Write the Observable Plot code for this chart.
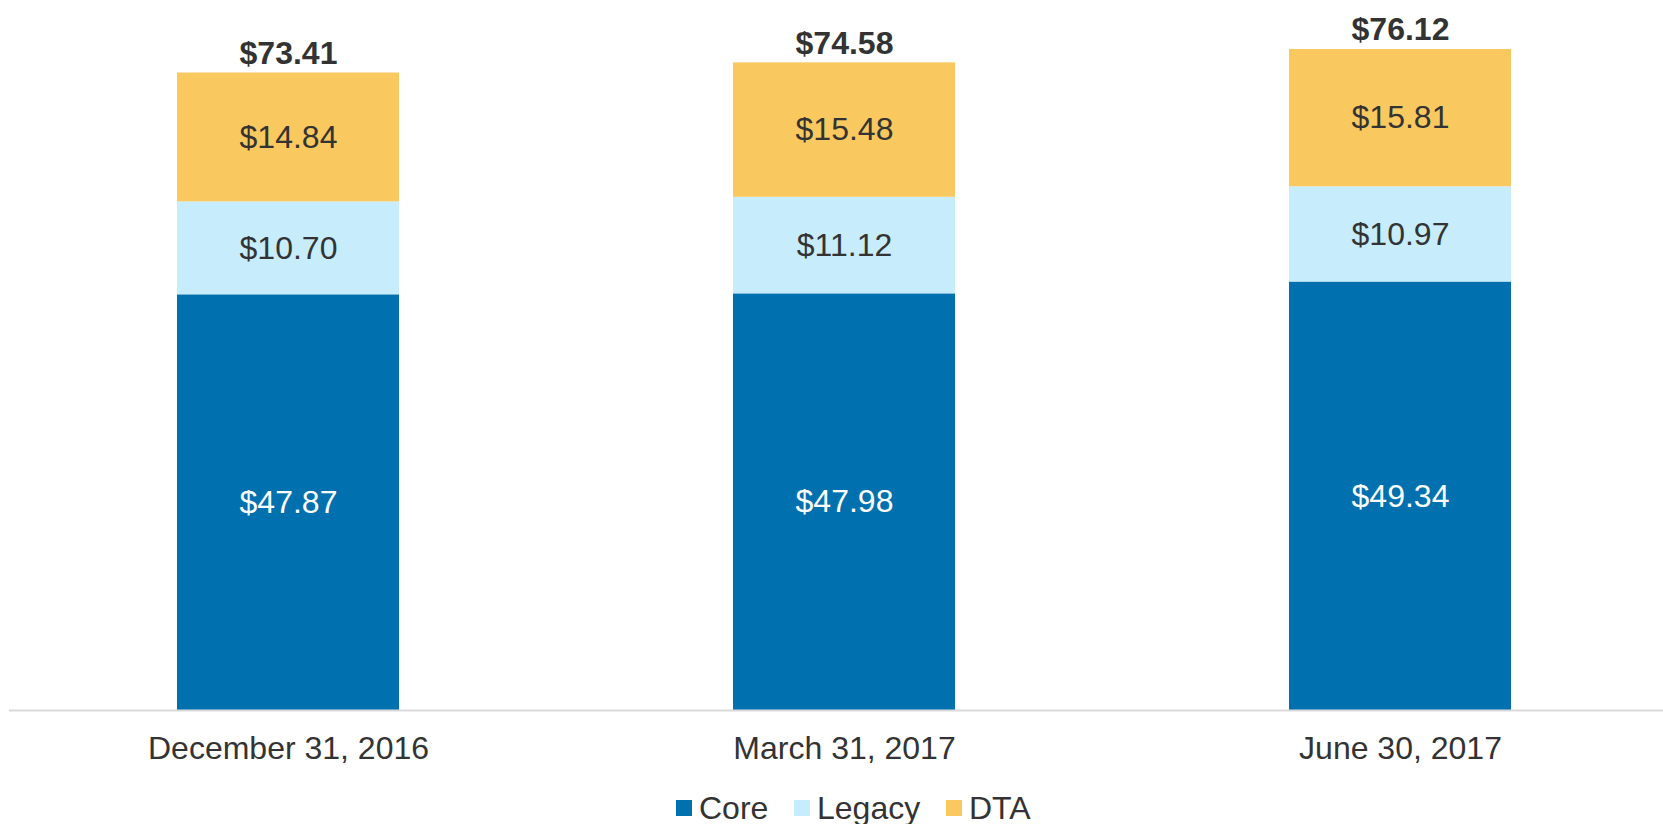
<!DOCTYPE html>
<html>
<head>
<meta charset="utf-8">
<script src="https://cdn.jsdelivr.net/npm/d3@7"></script>
<script src="https://cdn.jsdelivr.net/npm/@observablehq/plot@0.6"></script>
<style>
  html, body { margin: 0; padding: 0; background: #fff; }
  body { width: 1663px; height: 824px; overflow: hidden; font-family: "Liberation Sans", Arial, sans-serif; }
  #legend { position: relative; height: 44px; }
  .item { position: absolute; top: 12px; height: 32px; line-height: 32px; font-size: 32px; color: #333; display: flex; align-items: center; }
  .sw { width: 16px; height: 16px; margin-right: 7px; display: inline-block; }
</style>
</head>
<body>
<div id="chart"></div>
<div id="legend"></div>
<script>
const categories = ["December 31, 2016", "March 31, 2017", "June 30, 2017"];
const seriesNames = ["Core", "Legacy", "DTA"];
const core = [47.87, 47.98, 49.34];
const legacy = [10.70, 11.12, 10.97];
const dta = [14.84, 15.48, 15.81];
const totals = [73.41, 74.58, 76.12];
const colors = ["#0071AE", "#C7ECFC", "#F9C85E"];

const seriesValues = [core, legacy, dta];
const rows = [];
seriesNames.forEach((s, si) => {
  categories.forEach((c, ci) => rows.push({category: c, series: s, value: seriesValues[si][ci]}));
});
const totalRows = categories.map((c, i) => ({category: c, total: totals[i]}));
const fmt = v => "$" + v.toFixed(2);

const plot = Plot.plot({
  width: 1663,
  height: 780,
  marginTop: 15.3,
  marginBottom: 70,
  marginLeft: 9,
  marginRight: 0,
  style: {fontFamily: "'Liberation Sans', Arial, sans-serif", color: "#333", background: "#fff"},
  x: {domain: categories, range: [9, 1678.5], padding: 0.6, paddingOuter: 0.3, label: null},
  y: {domain: [0, 80], axis: null},
  color: {domain: seriesNames, range: colors},
  marks: [
    Plot.barY(rows, Plot.stackY({x: "category", y: "value", fill: "series"})),
    Plot.text(rows, Plot.stackY({
      x: "category", y: "value",
      text: d => d.series === "Core" ? fmt(d.value) : "",
      fill: "white", fontSize: 32
    })),
    Plot.text(rows, Plot.stackY({
      x: "category", y: "value",
      text: d => d.series !== "Core" ? fmt(d.value) : "",
      fill: "#333", fontSize: 32
    })),
    Plot.text(totalRows, {
      x: "category", y: "total", text: d => fmt(d.total),
      lineAnchor: "bottom", dy: -9, fontSize: 32, fontWeight: "bold", fill: "#333"
    }),
    Plot.ruleY([0], {stroke: "#d9d9d9", strokeWidth: 2}),
    Plot.axisX({tickSize: 0, tickPadding: 26, fontSize: 32, fill: "#333"})
  ]
});
document.getElementById("chart").appendChild(plot);

const legend = document.getElementById("legend");
const lefts = [676, 794, 946];
seriesNames.forEach((s, i) => {
  const item = document.createElement("div");
  item.className = "item";
  item.style.left = lefts[i] + "px";
  const sw = document.createElement("span");
  sw.className = "sw";
  sw.style.background = colors[i];
  item.appendChild(sw);
  item.appendChild(document.createTextNode(s));
  legend.appendChild(item);
});
</script>
</body>
</html>
